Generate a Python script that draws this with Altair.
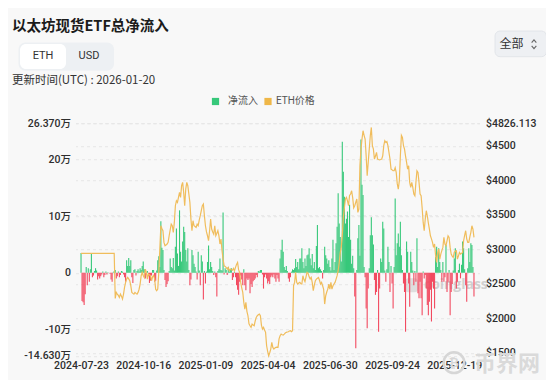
import altair as alt
import pandas as pd

# ---------------- data (net flow in thousand ETH, ETH price in USD) ----------------
FLOW_K = [
    35, -50, -52, -57, -38, 10, -22, 8, -16, 6,
    33, -8, -5, 3, 8, 4, -12, -6, -10, -6,
    -3, 2, -8, -4, 2, -3, 1, 0, -2, -12,
    -16, 1, 3, 5, -10, -6, 2, -8, -4, 3,
    2, -3, -8, -16, 22, 12, 26, 12, 22, -8,
    -18, 5, 6, -5, 3, 6, 2, 8, 5, 12,
    20, 6, -10, -4, 3, -6, -18, -14, -5, 5,
    5, -16, -14, 4, 22, 29, 10, 91, 44, 40,
    5, -13, -25, -20, -15, 3, 25, 10, 8, 26,
    4, 46, 78, 34, 12, 110, 37, 20, 55, 81,
    72, 40, 20, 43, 5, -22, -12, 40, 31, 16,
    10, 2, -12, 37, 4, -22, 31, 20, -47, 3,
    -19, 2, 19, 48, 6, 19, 10, 3, -4, 2,
    -8, -42, 3, 6, 25, 5, 4, 106, -3, 8,
    5, -4, 10, 2, 5, 8, -13, -8, 2, -8,
    -22, -30, -39, -16, -5, -12, -22, 6, -22, -31,
    -10, -13, -10, -36, -20, -25, -15, -13, -10, -4,
    -8, 3, 2, 5, 5, -3, -28, -8, -3, -10,
    -19, -15, -20, -8, -5, -8, -3, -10, -16, -4,
    -10, -16, 25, 40, 58, 37, 10, 5, 12, 3,
    -10, -16, -8, 2, 6, 5, 8, 24, 10, 19,
    6, 25, 25, 43, 19, 8, 25, 12, 31, 32,
    43, 25, 13, 33, 8, 19, 5, 47, 84, 8,
    10, 6, 3, -10, 5, 46, 31, 25, 16, 22,
    10, 4, 25, 58, 5, 19, 52, 81, 140, 87,
    63, 20, 231, 178, 134, 87, 95, 108, 63, 120,
    58, 16, 30, 8, -42, -133, 5, 61, 84, 30,
    235, 155, 137, 10, -8, -63, -98, -28, 8, 66,
    98, 66, 50, -13, -39, -34, 5, -104, -28, 25,
    19, 90, 78, 4, -16, 6, 46, 19, -34, 12,
    -19, -63, 10, 131, 31, 52, 69, 46, 90, 31,
    5, -19, -34, -104, 55, 37, -19, -60, 37, 19,
    4, -22, 3, -16, 61, -36, -45, -16, -45, -75,
    2, -10, -4, -28, -57, -75, -51, -30, -86, -16,
    -28, -63, 28, 46, 10, 43, 19, 5, -16, 19,
    -16, -8, 49, -34, -16, 5, -75, -34, -20, 4,
    25, 43, -28, -16, 5, 16, -10, 14, 55, 43,
    6, -22, -51, 8, 43, 19, 52, 49, 10, -42,
]

PRICE = [
    2939, 2939, 2939, 2939, 2939, 2939, 2939, 2939, 2939, 2939,
    2939, 2939, 2939, 2939, 2939, 2939, 2939, 2939, 2939, 2939,
    2939, 2939, 2939, 2939, 2939, 2939, 2939, 2939, 2939, 2939,
    2939, 2939, 2939, 2287, 2374, 2350, 2330, 2302, 2350, 2320,
    2278, 2350, 2450, 2519, 2567, 2591, 2570, 2543, 2471, 2374,
    2360, 2350, 2374, 2360, 2350, 2374, 2420, 2495, 2616, 2664,
    2620, 2591, 2712, 2664, 2567, 2640, 2630, 2616, 2543, 2600,
    2620, 2567, 2420, 2398, 2422, 2664, 3002, 3340, 3300, 3268,
    3099, 3050, 3060, 3075, 3099, 3195, 3280, 3364, 3340, 3244,
    3388, 3630, 3702, 3678, 3750, 3823, 3751, 3920, 3968, 3823,
    3630, 3871, 3968, 3920, 3800, 3678, 3437, 3268, 3413, 3340,
    3330, 3316, 3364, 3340, 3420, 3485, 3560, 3630, 3654, 3485,
    3340, 3250, 3195, 3123, 3268, 3437, 3292, 3250, 3219, 3340,
    3195, 3230, 3268, 3195, 3075, 3147, 2978, 2857, 2761, 2750,
    2736, 2712, 2736, 2688, 2712, 2703, 2695, 2722, 2688, 2736,
    2780, 2809, 2700, 2664, 2519, 2440, 2374, 2229, 2133, 2229,
    2100, 2036, 1920, 1891, 1867, 1915, 1900, 1891, 1960, 2012,
    2036, 2050, 2060, 2036, 1900, 1843, 1867, 1830, 1795, 1601,
    1520, 1456, 1500, 1553, 1650, 1577, 1553, 1570, 1577, 1580,
    1577, 1700, 1746, 1770, 1760, 1756, 1770, 1785, 1795, 1800,
    1804, 1815, 1819, 1804, 1819, 2471, 2519, 2664, 2520, 2495,
    2510, 2519, 2500, 2495, 2616, 2560, 2529, 2600, 2664, 2650,
    2600, 2567, 2591, 2519, 2398, 2480, 2543, 2567, 2580, 2591,
    2550, 2495, 2519, 2470, 2422, 2205, 2326, 2380, 2422, 2495,
    2422, 2519, 2422, 2470, 2495, 2519, 2567, 2616, 2688, 2800,
    2950, 3026, 3200, 3460, 3600, 3727, 3750, 3700, 3630, 3780,
    3800, 3847, 3750, 3600, 3630, 3680, 3727, 3533, 3582, 4209,
    4450, 4596, 4717, 4650, 4596, 4354, 4065, 4258, 4450, 4644,
    4765, 4500, 4451, 4306, 4350, 4403, 4306, 4300, 4296, 4300,
    4306, 4354, 4500, 4572, 4548, 4560, 4500, 4403, 4306, 4161,
    4150, 4137, 4137, 4180, 4113, 3950, 3871, 3992, 4354, 4650,
    4620, 4500, 4451, 4350, 4258, 4161, 4209, 3968, 3895, 3968,
    3895, 3800, 3775, 3968, 4137, 4113, 3968, 3799, 3775, 3600,
    3388, 3268, 3437, 3558, 3485, 3380, 3292, 3195, 3150, 3099,
    3026, 3075, 2906, 2809, 2954, 3002, 2857, 2930, 2980, 3026,
    3171, 3075, 3050, 3120, 3195, 3171, 3026, 2930, 2900, 2881,
    2954, 2970, 2978, 2857, 2900, 2954, 2930, 2940, 2954, 3123,
    3200, 3268, 3150, 3099, 3099, 3180, 3244, 3340, 3292, 3171,
]

X_TICKS = [0, 60, 120, 180, 240, 300, 360]
X_LABELS = ["2024-07-23", "2024-10-16", "2025-01-09", "2025-04-04",
            "2025-06-30", "2025-09-24", "2025-12-19"]
LEFT_TICKS = [263700, 200000, 100000, 0, -100000, -146300]
LEFT_LABELS = ["26.370万", "20万", "10万", "0", "-10万", "-14.630万"]
RIGHT_TICKS = [4826.113, 4500, 4000, 3500, 3000, 2500, 2000, 1500]
RIGHT_LABELS = ["$4826.113", "$4500", "$4000", "$3500", "$3000", "$2500", "$2000", "$1500"]
LEFT_DOMAIN = [-146300, 263700]
RIGHT_DOMAIN = [1457, 4826.113]

TITLE = "以太坊现货ETF总净流入"
UPDATED = "更新时间(UTC) : 2026-01-20"
LEGEND = ["净流入", "ETH价格"]

assert len(FLOW_K) == len(PRICE)
N = len(FLOW_K)

df = pd.DataFrame({
    "i": list(range(N)),
    "flow": [v * 1000 for v in FLOW_K],
    "price": PRICE,
})

GREEN = "#37c87a"
RED = "#f24a60"
ORANGE = "#f0bd5c"
LEG_ORANGE = "#efb748"
BG = "#f8f8f8"
FONT = "Roboto, 'Noto Sans CJK SC', sans-serif"
CJK = "'Noto Sans CJK SC', sans-serif"


def label_expr(ticks, labels):
    s = "''"
    for t, l in reversed(list(zip(ticks, labels))):
        s = f"abs(datum.value - ({t})) < 0.01 ? '{l}' : ({s})"
    return s


axis_style = dict(domain=False, ticks=False, labelFont=FONT, labelFontSize=10.5,
                  labelColor="#2e2e2e", labelFontWeight=500, labelOverlap=False,
                  labelFlush=False, title=None)

x_scale = alt.Scale(domain=[-0.5, N - 0.5], nice=False, zero=False)
x_axis = alt.Axis(values=X_TICKS, labelExpr=label_expr(X_TICKS, X_LABELS),
                  grid=False, labelPadding=5, orient="bottom", **axis_style)

bars = alt.Chart(df).mark_bar(size=1.1).encode(
    x=alt.X("i:Q", scale=x_scale, axis=x_axis),
    y=alt.Y("flow:Q", scale=alt.Scale(domain=LEFT_DOMAIN, nice=False, zero=False),
            axis=alt.Axis(orient="left", values=LEFT_TICKS,
                          labelExpr=label_expr(LEFT_TICKS, LEFT_LABELS),
                          grid=True, gridColor="#e6e6e6", gridDash=[3, 3],
                          labelPadding=5, **axis_style)),
    y2=alt.datum(0),
    color=alt.condition("datum.flow > 0", alt.value(GREEN), alt.value(RED)),
)

line = alt.Chart(df).mark_line(color=ORANGE, strokeWidth=1.2).encode(
    x=alt.X("i:Q", scale=x_scale, axis=x_axis),
    y=alt.Y("price:Q", scale=alt.Scale(domain=RIGHT_DOMAIN, nice=False, zero=False),
            axis=alt.Axis(orient="right", values=RIGHT_TICKS,
                          labelExpr=label_expr(RIGHT_TICKS, RIGHT_LABELS),
                          grid=True, gridColor="#e6e6e6", gridDash=[3, 3],
                          labelPadding=6, **axis_style)),
)

one = alt.Data(values=[{"k": 1}])


def txt(x, y, s, size=11, color="#333", font=CJK, weight="normal", align="left", opacity=1.0):
    return alt.Chart(one).mark_text(align=align, baseline="middle", fontSize=size, color=color,
                                     font=font, fontWeight=weight, opacity=opacity).encode(
        x=alt.value(x), y=alt.value(y), text=alt.value(s))


def rect(x, x2, y, y2, fill, radius=5, stroke=None, opacity=1.0):
    kw = dict(fill=fill, cornerRadius=radius, opacity=opacity)
    if stroke:
        kw.update(stroke=stroke, strokeWidth=1)
    return alt.Chart(one).mark_rect(**kw).encode(
        x=alt.value(x), x2=alt.value(x2), y=alt.value(y), y2=alt.value(y2))


def sym(x, y, shape, size, fill=None, stroke=None, sw=1.0, opacity=1.0):
    kw = dict(shape=shape, size=size, opacity=opacity)
    if fill:
        kw.update(filled=True, fill=fill, color=fill)
    else:
        kw.update(filled=False, stroke=stroke, strokeWidth=sw)
    return alt.Chart(one).mark_point(**kw).encode(x=alt.value(x), y=alt.value(y))


# watermarks (behind bars)
wm = [
    rect(329, 343, 155, 169, "#c9c9c9", radius=4, opacity=0.55),
    txt(348.5, 161.8, "coinglass", size=14, color="#c4c4c4", font="'Open Sans', sans-serif",
        weight="bold", opacity=0.75),
    sym(378.5, 239.5, "circle", 430, stroke="#d6d6d6", sw=2.5),
    txt(378.5, 240, "₿", size=12, color="#d6d6d6", font="'DejaVu Sans', sans-serif",
        weight="bold", align="center"),
    txt(398.5, 240.5, "币界网", size=22, color="#dadada", weight="bold"),
]

header = [
    txt(-63.5, -96.2, TITLE, size=14.5, color="#1b1b1b", weight="bold"),
    rect(-57, 38.5, -80.7, -52.5, "#edf0f3", radius=7),
    rect(-55.5, -9.5, -79.2, -54.2, "#ffffff", radius=6),
    txt(-32.5, -66.7, "ETH", size=11, color="#333", font=FONT, align="center"),
    txt(13.5, -66.7, "USD", size=11, color="#333", font=FONT, align="center"),
    txt(-63.5, -42.2, UPDATED, size=11.5, color="#333"),
    sym(140, -21.7, "square", 52, fill=GREEN),
    txt(152.5, -21.7, LEGEND[0], size=10, color="#555"),
    sym(192.5, -21.7, "square", 52, fill=LEG_ORANGE),
    txt(200.5, -21.7, LEGEND[1], size=10, color="#555", font=FONT),
    rect(419.5, 471, -92.2, -66.5, "#eef0f3", radius=5, stroke="#e2e5e9"),
    txt(436, -79.2, "全部", size=12, color="#333", align="center"),
    sym(458.5, -82.0, "M-1,0.6L0,-0.6L1,0.6", 22, stroke="#666", sw=1.1),
    sym(458.5, -76.0, "M-1,-0.6L0,0.6L1,-0.6", 22, stroke="#666", sw=1.1),
]

chart = alt.layer(*wm, bars, line, *header).resolve_scale(
    y="independent"
).properties(
    width=404, height=232.5,
    autosize=alt.AutoSizeParams(type="none"),
    padding={"left": 67.5, "top": 115.2, "right": 66, "bottom": 24},
    background=BG,
).configure_view(stroke=None)

chart.save("out.html", embed_options={"renderer": "svg", "actions": False})
